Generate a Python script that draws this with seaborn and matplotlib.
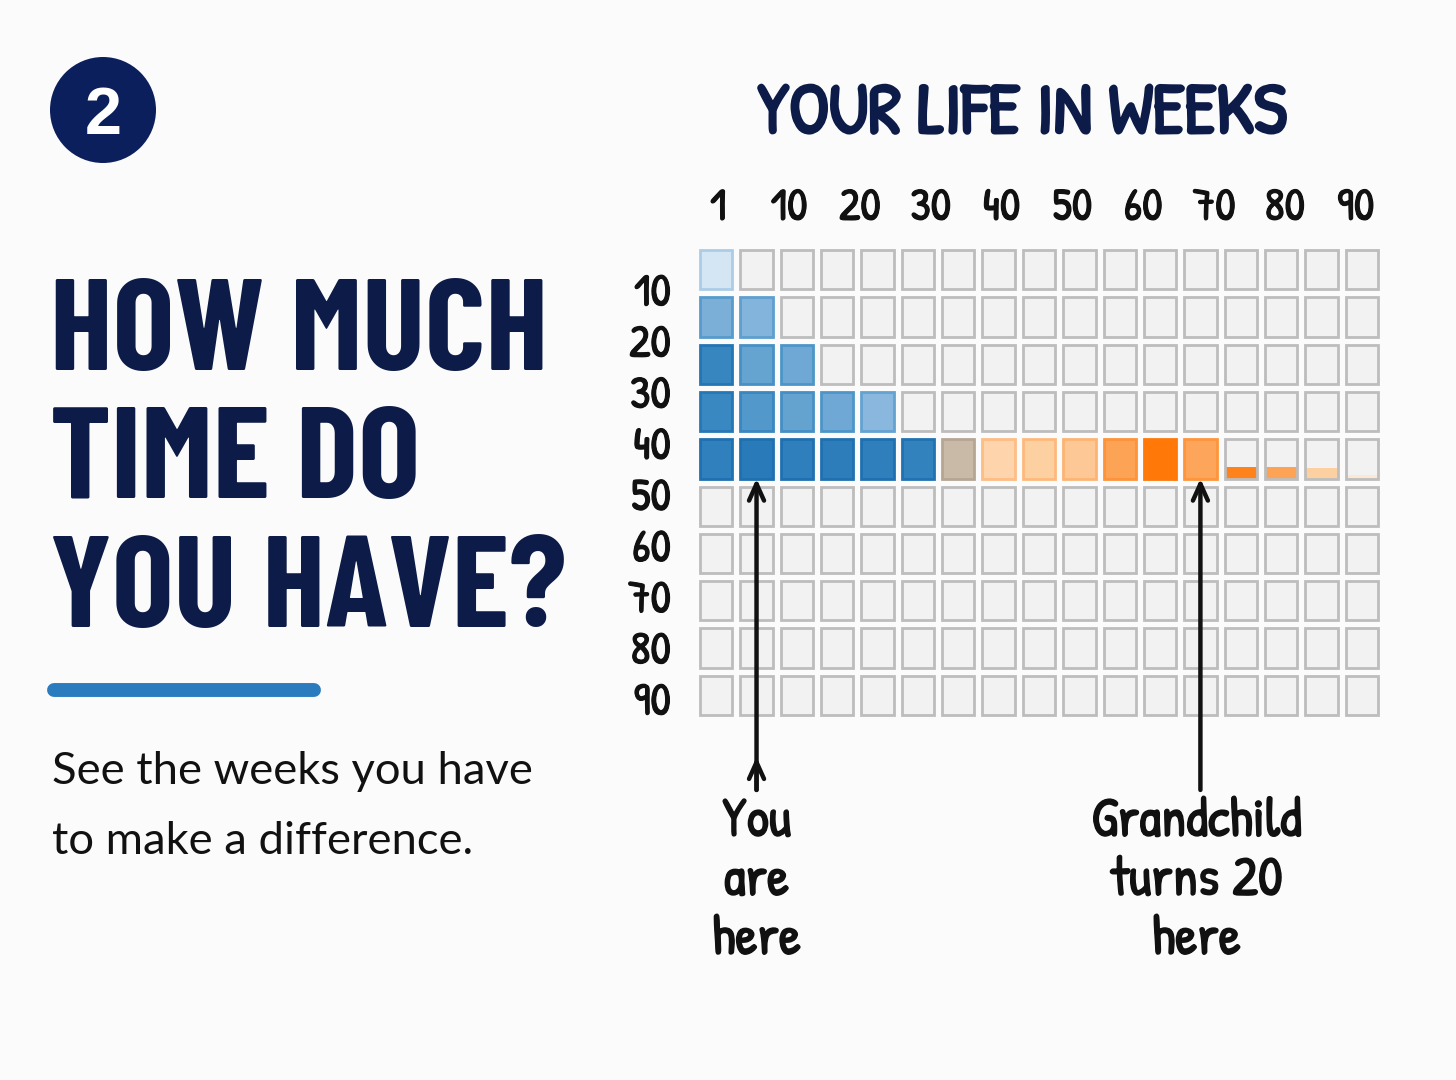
import numpy as np
import pandas as pd
import matplotlib
matplotlib.use("Agg")
import matplotlib.pyplot as plt
import seaborn as sns
from matplotlib import font_manager
import matplotlib.patheffects as pe
from matplotlib.colors import LinearSegmentedColormap, ListedColormap
from matplotlib.patches import Rectangle, Ellipse
from matplotlib.lines import Line2D
from matplotlib.transforms import blended_transform_factory

# ---------------- data ----------------
col_labels = ["1", "10", "20", "30", "40", "50", "60", "70", "80", "90"]
row_labels = ["10", "20", "30", "40", "50", "60", "70", "80", "90"]
n_rows, n_cols = 10, 17

# stage of each cell in the filled rows: 0 empty, 1 lived (blue), 2 transition (tan), 3 ahead (orange)
stage_rows = [
    [1],
    [1, 1],
    [1, 1, 1],
    [1, 1, 1, 1, 1],
    [1, 1, 1, 1, 1, 1, 2, 3, 3, 3, 3, 3, 3],
]
# shade (intensity) of each filled cell
shade_rows = [
    [0.15],
    [0.47, 0.44],
    [0.80, 0.56, 0.52],
    [0.78, 0.64, 0.57, 0.52, 0.42],
    [0.85, 0.90, 0.86, 0.88, 0.86, 0.83, 0.5, 0.27, 0.30, 0.34, 0.62, 1.0, 0.60],
]
# partially filled cells at the end of row 40
partial_cols = [13, 14, 15, 16]
partial_frac = [0.30, 0.28, 0.27, 0.08]
partial_shade = [0.92, 0.62, 0.30, 0.12]

you_col, you_row = 1, 4
grand_col, grand_row = 12, 4

title = "YOUR LIFE IN WEEKS"
heading = ["HOW MUCH", "TIME DO", "YOU HAVE?"]
subtitle = ["See the weeks you have", "to make a difference."]
label_you = "You\nare\nhere"
label_grand = "Grandchild\nturns 20\nhere"

# ---------------- style ----------------
sns.set_theme(style="white")
bg = "#fbfbfb"
navy = "#0c1b47"
ink = "#111111"

names = {f.name for f in font_manager.fontManager.ttflist}


def pick(*cands):
    for c in cands:
        if c in names:
            return c
    return "DejaVu Sans"


f_head = pick("Barlow Condensed", "Roboto Condensed", "Oswald", "Bebas Neue")
f_hand = pick("Patrick Hand", "Gochi Hand", "Kalam", "Comic Neue")
f_title = pick("Patrick Hand", "Gochi Hand", "Kalam")
f_body = pick("Lato", "Open Sans", "Noto Sans")
f_badge = pick("Liberation Sans", "Roboto", "DejaVu Sans")
plt.rcParams["font.family"] = [f_hand, "DejaVu Sans"]

stage = np.zeros((n_rows, n_cols), dtype=int)
shade = np.zeros((n_rows, n_cols))
for r, (st, sh) in enumerate(zip(stage_rows, shade_rows)):
    stage[r, :len(st)] = st
    shade[r, :len(sh)] = sh
shade_df = pd.DataFrame(shade)

blue_cmap = LinearSegmentedColormap.from_list(
    "lifeblue", [(0, "#f0f6fc"), (0.15, "#d4e5f4"), (0.45, "#80b2da"),
                 (0.65, "#5097c9"), (0.85, "#2f80bd"), (1, "#1f70b0")])
orange_cmap = LinearSegmentedColormap.from_list(
    "lifeorange", [(0, "#fff4ea"), (0.12, "#fde8d4"), (0.28, "#fdd3a8"),
                   (0.34, "#fdc895"), (0.6, "#fda55a"), (0.9, "#ff8520"), (1, "#ff7808")])
tan_cmap = ListedColormap(["#c9baa8"])
empty_cmap = ListedColormap(["#f2f2f2"])

W, H = 1456, 1080
fig = plt.figure(figsize=(W / 100, H / 100), dpi=100, facecolor=bg)
renderer = fig.canvas.get_renderer()


def fit_width(txt, target_px):
    bb = txt.get_window_extent(renderer=renderer)
    if bb.width > 0:
        txt.set_fontsize(txt.get_fontsize() * target_px / bb.width)
    return txt.get_fontsize()


# grid axes (pixel box 696..1382 x 246..719)
ax = fig.add_axes([696 / W, 1 - 719 / H, 686 / W, 473 / H])
ax.set_facecolor(bg)

gap_px = 8
lw_pt = gap_px * 72 / 100
for k, cmap in [(0, empty_cmap), (1, blue_cmap), (2, tan_cmap), (3, orange_cmap)]:
    sns.heatmap(shade_df, mask=(stage != k), cmap=cmap, vmin=0, vmax=1, cbar=False,
                linewidths=lw_pt, linecolor=bg, ax=ax,
                xticklabels=False, yticklabels=False)

px = (gap_px / 2) / (686 / n_cols)
py = (gap_px / 2) / (473 / n_rows)

edge_for = {
    0: lambda s: "#bdbdbd",
    1: lambda s: blue_cmap(min(s + 0.15, 1.0)),
    2: lambda s: "#b5a694",
    3: lambda s: orange_cmap(min(s + 0.15, 1.0)),
}
for r in range(n_rows):
    for c in range(n_cols):
        ax.add_patch(Rectangle((c + px, r + py), 1 - 2 * px, 1 - 2 * py, fill=False,
                               lw=2, ec=edge_for[stage[r, c]](shade[r, c]), zorder=3))

# partial fills
ax.bar(np.array(partial_cols) + 0.5, -np.array(partial_frac) * (1 - 2 * py),
       bottom=grand_row + 1 - py, width=1 - 2 * px,
       color=[orange_cmap(s) for s in partial_shade], zorder=2, linewidth=0)

ax.set_xlim(0, n_cols)
ax.set_ylim(n_rows, 0)
ax.set_xticks(np.linspace(0.55, 16.35, len(col_labels)))
ax.set_xticklabels(col_labels)
ax.set_yticks(np.linspace(0.9, 9.55, len(row_labels)))
ax.set_yticklabels(row_labels, rotation=0)
ax.xaxis.tick_top()
ax.tick_params(axis="x", length=0, pad=8, labelsize=33, labelcolor=ink,
               labeltop=True, labelbottom=False)
ax.tick_params(axis="y", length=0, pad=18, labelsize=33, labelcolor=ink)
for lab in ax.get_xticklabels() + ax.get_yticklabels():
    lab.set_family([f_hand, "DejaVu Sans"])
    lab.set_path_effects([pe.withStroke(linewidth=0.8, foreground=ink)])
for s in ax.spines.values():
    s.set_visible(False)

# arrows
arrow_kw = dict(arrowstyle="->,head_length=1.0,head_width=0.45", lw=3.2, color=ink,
                shrinkA=0, shrinkB=0)
for col, row in [(you_col, you_row), (grand_col, grand_row)]:
    x = col + 0.5
    ax.annotate("", xy=(x, row + 1 - py), xytext=(x, 11.5), arrowprops=arrow_kw,
                annotation_clip=False)
    if col == you_col:
        ax.annotate("", xy=(x, 10.8), xytext=(x, 11.5), arrowprops=arrow_kw,
                    annotation_clip=False)

bt = blended_transform_factory(ax.transData, fig.transFigure)
stroke = [pe.withStroke(linewidth=1.0, foreground=ink)]
t_you = ax.text(you_col + 0.5, 1 - 796 / H, label_you, transform=bt, ha="center", va="top",
                fontsize=40, color=ink, family=[f_hand, "DejaVu Sans"], linespacing=1.05,
                path_effects=stroke)
t_gr = ax.text(grand_col + 0.4, 1 - 796 / H, label_grand, transform=bt, ha="center", va="top",
               fontsize=40, color=ink, family=[f_hand, "DejaVu Sans"], linespacing=1.05,
               path_effects=stroke)

# title over the grid
t_title = fig.text(1022 / W, 1 - 133 / H, title, ha="center", va="baseline", fontsize=50,
                   color=navy, family=[f_title, "DejaVu Sans"],
                   path_effects=[pe.withStroke(linewidth=2.2, foreground=navy)])
fit_width(t_title, 530)

# number badge
fig.add_artist(Ellipse((103 / W, 1 - 110 / H), 106 / W, 106 / H, transform=fig.transFigure,
                       facecolor="#0b1f5c", edgecolor="none"))
fig.text(103 / W, 1 - 134 / H, "2", ha="center", va="baseline", fontsize=48,
         fontweight="bold", color="white", family=[f_badge, "DejaVu Sans"])

# heading
head_txt = []
for txt, base in zip(heading, [370, 498, 627]):
    head_txt.append(fig.text(50 / W, 1 - base / H, txt, ha="left", va="baseline", fontsize=90,
                             fontweight="bold", color=navy, family=[f_head, "DejaVu Sans"]))
fs = fit_width(head_txt[0], 498)
for t in head_txt[1:]:
    t.set_fontsize(fs)

# brush stroke
fig.add_artist(Line2D([54 / W, 314 / W], [1 - 690 / H, 1 - 690 / H], transform=fig.transFigure,
                      color="#2b7bbf", lw=10, solid_capstyle="round"))

# subtitle
sub_txt = []
for txt, base in zip(subtitle, [784, 854]):
    sub_txt.append(fig.text(52 / W, 1 - base / H, txt, ha="left", va="baseline", fontsize=30,
                            color=ink, family=[f_body, "DejaVu Sans"]))
fs = fit_width(sub_txt[0], 480)
sub_txt[1].set_fontsize(fs)

fig.savefig("out.png", dpi=100, facecolor=bg)
